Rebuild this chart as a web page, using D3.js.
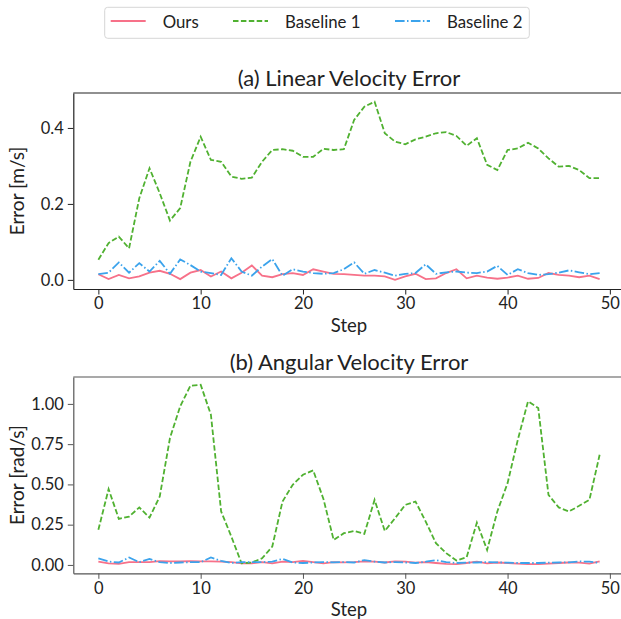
<!DOCTYPE html>
<html>
<head>
<meta charset="utf-8">
<script src="https://cdn.jsdelivr.net/npm/d3@7"></script>
<style>
  body { margin: 0; background: #fff; }
  svg text { font-family: Lato, "Open Sans", sans-serif; fill: #222; }
</style>
</head>
<body>
<div id="chart"></div>
<script>
// steps 0..49
const steps = d3.range(50)

// (a) linear velocity error [m/s]
const linOurs = [0.015,0.002,0.013,0.004,0.009,0.019,0.024,0.016,0.002,0.019,
  0.026,0.009,0.022,0.004,0.019,0.038,0.011,0.007,0.015,0.018,
  0.013,0.028,0.022,0.016,0.015,0.013,0.011,0.011,0.009,0.000,
  0.009,0.016,0.002,0.004,0.018,0.028,0.004,0.011,0.006,0.003,
  0.006,0.011,0.003,0.005,0.018,0.013,0.011,0.007,0.011,0.002]
const linBase1 = [0.053,0.097,0.114,0.083,0.215,0.294,0.228,0.156,0.189,0.311,
  0.377,0.316,0.311,0.272,0.266,0.269,0.311,0.342,0.344,0.340,
  0.324,0.324,0.345,0.342,0.344,0.421,0.456,0.469,0.386,0.364,
  0.357,0.370,0.377,0.386,0.389,0.379,0.353,0.373,0.303,0.289,
  0.342,0.346,0.361,0.346,0.320,0.298,0.300,0.289,0.268,0.268]
const linBase2 = [0.015,0.019,0.046,0.019,0.044,0.022,0.050,0.016,0.054,0.039,
  0.022,0.018,0.013,0.057,0.022,0.011,0.035,0.055,0.011,0.028,
  0.022,0.018,0.016,0.018,0.028,0.046,0.016,0.026,0.019,0.011,
  0.016,0.018,0.041,0.016,0.020,0.022,0.019,0.018,0.022,0.037,
  0.013,0.028,0.018,0.013,0.015,0.019,0.025,0.020,0.015,0.018]

// (b) angular velocity error [rad/s]
const angOurs = [0.021,0.010,0.006,0.017,0.017,0.018,0.023,0.022,0.022,0.023,
  0.022,0.022,0.020,0.018,0.010,0.010,0.017,0.010,0.021,0.017,
  0.025,0.017,0.010,0.017,0.016,0.018,0.022,0.020,0.015,0.022,
  0.020,0.014,0.018,0.012,0.006,0.005,0.012,0.020,0.010,0.015,
  0.012,0.008,0.005,0.005,0.008,0.012,0.015,0.014,0.008,0.022]
const angBase1 = [0.218,0.471,0.286,0.300,0.357,0.294,0.425,0.788,0.985,1.113,
  1.119,0.933,0.332,0.176,0.010,0.015,0.041,0.114,0.394,0.498,
  0.560,0.587,0.410,0.155,0.197,0.211,0.193,0.404,0.211,0.290,
  0.373,0.394,0.269,0.135,0.073,0.027,0.048,0.263,0.093,0.332,
  0.508,0.777,1.016,0.974,0.435,0.357,0.332,0.367,0.404,0.684]
const angBase2 = [0.041,0.021,0.015,0.046,0.017,0.037,0.017,0.012,0.015,0.017,
  0.017,0.046,0.025,0.012,0.017,0.017,0.017,0.021,0.037,0.015,
  0.012,0.015,0.018,0.016,0.018,0.015,0.030,0.020,0.015,0.018,
  0.015,0.012,0.020,0.030,0.018,0.012,0.015,0.015,0.018,0.016,
  0.014,0.012,0.012,0.012,0.014,0.015,0.016,0.022,0.020,0.012]

const seriesNames = ["Ours", "Baseline 1", "Baseline 2"]
const colors = ["#f77189", "#50b131", "#3ba3ec"]
const dashes = [null, "5.5,2.4", "9.6,2.4,1.5,2.4"]

const W = 621, H = 619

const svg = d3.select("#chart").append("svg")
  .attr("width", W)
  .attr("height", H)

// x scale shared (right spine falls outside the picture)
const x = d3.scaleLinear().domain([-2.45, 51.45]).range([73.3, 624.7])

const panels = [
  {title: "(a) Linear Velocity Error", ylabel: "Error [m/s]", data: [linOurs, linBase1, linBase2],
   ydom: [-0.024, 0.492], top: 93, bottom: 289, ticks: [0, 0.2, 0.4], fmt: d3.format(".1f"), spine: "#222"},
  {title: "(b) Angular Velocity Error", ylabel: "Error [rad/s]", data: [angOurs, angBase1, angBase2],
   ydom: [-0.052, 1.167], top: 377, bottom: 573.3, ticks: [0, 0.25, 0.5, 0.75, 1.0], fmt: d3.format(".2f"), spine: "#555"}
]

panels.forEach(function(p) {
  const y = d3.scaleLinear().domain(p.ydom).range([p.bottom, p.top])
  const g = svg.append("g")

  // lines
  const line = d3.line()
    .x(function(d, i) { return x(steps[i]) })
    .y(function(d) { return y(d) })

  p.data.forEach(function(vals, k) {
    g.append("path")
      .datum(vals)
      .attr("d", line)
      .attr("fill", "none")
      .attr("stroke", colors[k])
      .attr("stroke-width", 1.8)
      .attr("stroke-dasharray", dashes[k])
  })

  // spines
  g.append("line").attr("x1", 73.3).attr("x2", 624.7).attr("y1", p.top).attr("y2", p.top)
    .attr("stroke", p.spine).attr("stroke-width", 1.2)

  const xa = g.append("g")
    .attr("transform", "translate(0," + p.bottom + ")")
    .call(d3.axisBottom(x).tickValues([0, 10, 20, 30, 40, 50]).tickSize(5.5).tickPadding(3).tickSizeOuter(0))
  const ya = g.append("g")
    .attr("transform", "translate(73.3,0)")
    .call(d3.axisLeft(y).tickValues(p.ticks).tickFormat(p.fmt).tickSize(5.5).tickPadding(4).tickSizeOuter(0))

  ;[xa, ya].forEach(function(a) {
    a.select(".domain").attr("stroke", p.spine).attr("stroke-width", 1.2)
    a.selectAll(".tick line").attr("stroke", p.spine)
    a.selectAll("text").attr("font-size", 16.5).attr("font-family", null).attr("fill", "#222")
  })

  g.append("text")
    .attr("x", 349).attr("y", p.top - 7)
    .attr("text-anchor", "middle")
    .attr("font-size", 22)
    .text(p.title)

  g.append("text")
    .attr("x", 349).attr("y", p.bottom + 43)
    .attr("text-anchor", "middle")
    .attr("font-size", 18.5)
    .text("Step")

  g.append("text")
    .attr("transform", "translate(24," + (p.top + p.bottom) / 2 + ") rotate(-90)")
    .attr("text-anchor", "middle")
    .attr("font-size", 19)
    .text(p.ylabel)
})

// legend
const leg = svg.append("g")
leg.append("rect")
  .attr("x", 104.7).attr("y", 7.3).attr("width", 424.6).attr("height", 31)
  .attr("rx", 3).attr("fill", "#fff").attr("stroke", "#d6d6d6")

const legX = [110.7, 233, 395]
seriesNames.forEach(function(name, k) {
  leg.append("line")
    .attr("x1", legX[k]).attr("x2", legX[k] + 35)
    .attr("y1", 21).attr("y2", 21)
    .attr("stroke", colors[k]).attr("stroke-width", 1.8)
    .attr("stroke-dasharray", dashes[k])
  leg.append("text")
    .attr("x", legX[k] + 52).attr("y", 27.5)
    .attr("font-size", 16.8)
    .text(name)
})
</script>
</body>
</html>
